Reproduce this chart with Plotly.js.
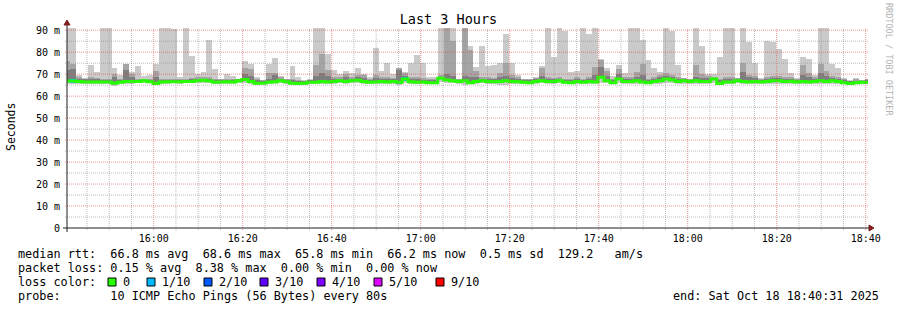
<!DOCTYPE html>
<html>
<head>
<meta charset="utf-8">
<script src="https://cdn.plot.ly/plotly-3.0.1.min.js"></script>
<style>
html,body{margin:0;padding:0;background:#fff;}
#chart{width:897px;height:310px;}
</style>
</head>
<body>
<div id="chart"></div>
<script>
// ---- data (one value per 80 s step, first step starts 15:39:51) ----
const stepStartISO = [2025, 9, 18, 15, 39, 51];
const stepSeconds = 80;

const hi = [91,91,69.6,68.2,74.3,71.1,91,91,73,69.7,74.6,71,73.8,69.3,69.6,74.8,91,91,90.5,68.7,
91,78.3,70,71,85.6,72.3,68,70,69.3,68,76,74.6,68.7,67.5,74.6,77.5,69.3,68,73.8,68.7,
67.2,68,91,91,79,72,70,71.3,70.6,73,70,68.7,81.8,71.6,75,70,73,71,75,78.5,
75,68.7,68.7,91,91,91,68,91,82.6,73.3,83,73.6,74,75,88.3,75,69.7,68,68,68.6,
73.6,91,77.7,91,89.8,71,71.6,91,88.3,91,77,73,69.3,74.3,70.4,91,91,85.6,76.5,73,
71,91,89.8,74.3,68.4,68,91,82.6,70,70,78,91,91,68.4,91,84.5,75,68.4,85,84.5,
81.5,76.7,70.4,68.4,78,77,69.7,91,91,74.6,73,68.4,67.2,68.4,67.5,68];

const p9 = [76,74.6,68.5,68,68.5,68.2,68,67.8,70,68,74.6,70,68,68,68,71.4,68,67.8,68,68,
68,68.2,68.5,68.5,68.5,68,67.8,68,67.8,67.8,73,72.3,67.8,67.3,70.6,70.6,68.5,67.8,68,67.5,
67,67.5,74.3,79.2,72,68.6,68.5,70,68.5,69.7,69.7,68,69.7,68.6,68.5,68.2,73,70.6,68.6,68.5,
68.2,67.8,67.8,69.5,91,85,67.8,91,81,71.6,68.5,68.5,68.2,70.6,75,69.7,68.5,67.6,67.6,68.2,
73,68.6,68.2,68.5,67.8,67.8,68.6,68,68.6,73.3,76.5,71.6,68,72.3,68.5,68.6,71,74.6,68,68.6,
69.5,70.5,69.8,68.6,68.2,67.8,74,70,69,68.5,68,68.5,68.6,68.2,75,69.7,69.3,68,68.6,69,
69,68.6,68.6,67.8,74,70.4,68.6,74.6,71.4,69.3,68.7,67.6,67,67.6,67.2,67.6];

const p8 = [72,72.3,68,67.8,68,67.6,67.5,67.3,68.5,67.5,72,68.5,67.5,67.5,67.5,68.5,67.5,67.3,67.4,67.4,
67.4,67.6,67.6,68,68,67.5,67.4,67.5,67.2,67.6,70,69,67.2,66.9,68,69.5,68,67.3,67.3,67,
66.8,67.2,69,70.5,69,67.8,68,68.5,67.8,68.5,68.4,67.5,68.2,67.8,67.8,67.6,72,69,67.8,67.6,
67.5,67.3,67.3,68.8,70,69,67.5,69,68.5,68.5,67.8,67.8,67.6,68.5,69,68.3,68,67.2,67.2,67.8,
69,67.8,67.6,67.8,67.3,67.3,67.8,67.5,67.8,69.5,73.3,69,67.5,70,67.8,68,68.8,69.5,67.4,67.8,
68.5,69,68.5,67.8,67.8,67.4,68.5,68.3,68.4,68.2,67.2,67.6,67.8,67.8,71,68.5,68.2,67.5,67.8,68.2,
68.2,67.8,67.8,67.4,69.5,68.5,67.8,70.5,69,68.2,67.9,67.2,66.8,67,66.9,67.2];

const median = [66.9,66.9,66.7,66.4,66.4,66.4,66.4,66.4,65.9,66.3,66.7,66.7,66.7,67.0,66.5,65.8,66.4,66.5,66.6,66.5,
66.7,66.7,67.0,67.2,66.9,66.3,66.4,66.6,66.4,67.0,67.6,66.7,65.9,65.9,66.3,66.6,67.0,66.6,65.9,65.8,
65.9,66.3,66.3,66.7,66.4,66.7,67.0,66.7,67.0,67.2,66.7,66.3,66.4,66.7,66.4,66.7,66.3,67.8,66.6,66.3,
66.4,66.1,66.1,68.1,67.3,67.0,66.7,67.0,66.1,66.7,67.0,66.7,66.6,66.7,67.0,66.7,66.6,66.3,66.1,66.7,
67.0,66.7,66.7,67.0,66.3,66.1,66.7,66.3,66.7,66.4,68.6,67.0,66.1,67.8,66.7,66.7,67.0,66.4,66.1,66.7,
67.0,67.8,67.3,66.7,67.0,66.7,67.0,66.7,66.7,67.8,65.8,66.4,66.4,67.0,66.7,66.4,66.7,66.4,66.7,67.0,
67.0,66.7,66.8,66.4,66.7,66.4,66.7,67.0,66.7,67.0,66.7,66.1,65.8,66.1,66.3,66.2];

const lo = [65.5,65.6,65.6,65.3,65.3,65.6,65.6,65.6,64.6,65.3,65.6,65.6,65.8,65.9,65.8,65.0,65.6,65.6,65.8,65.6,
65.8,65.8,65.9,66.0,65.8,65.5,65.5,65.6,65.6,65.8,66.0,65.7,65.2,65.3,65.5,65.7,66.0,65.7,65.2,65.2,
65.2,65.5,65.5,65.6,65.5,65.7,65.9,65.7,65.9,66.0,65.7,65.5,65.6,65.7,65.5,65.7,65.0,66.0,65.6,65.5,
65.6,65.3,65.3,66.3,66.0,65.8,65.7,65.0,65.3,65.7,65.8,65.7,65.6,65.0,65.2,65.6,65.6,65.5,65.4,65.6,
65.8,65.6,65.6,65.8,65.5,65.4,65.6,65.4,65.6,65.5,66.2,65.8,65.4,66.0,65.6,65.6,65.7,65.5,65.4,65.5,
65.7,66.0,65.8,65.5,65.7,65.6,65.7,65.6,65.6,66.0,65.2,65.4,65.4,65.8,65.6,65.4,65.6,65.5,65.6,65.7,
65.7,65.6,65.6,65.5,65.5,65.5,65.6,65.6,65.5,65.7,65.5,65.3,65.2,65.3,65.4,65.5];

// lost pings per step (out of 10)
const loss = [0,1,1,0,0,0,0,0,0,0,0,0,0,0,0,0,0,0,0,0,
0,0,0,0,0,0,0,0,0,0,0,0,0,0,0,0,0,0,0,0,
0,0,0,0,0,0,0,0,0,0,0,0,0,0,0,0,1,1,0,0,
0,0,0,0,0,0,0,0,0,0,0,0,0,0,0,0,0,0,0,0,
0,0,0,0,0,0,0,0,0,0,0,0,0,0,0,0,0,0,0,0,
0,0,0,0,0,0,0,0,0,0,0,0,0,0,0,0,0,0,0,0,
0,0,0,0,0,0,0,0,0,0,0,0,0,0,0,0];

const lossLevels = [0, 1, 2, 3, 4, 5, 9];
const lossLabels = ['0', '1/10', '2/10', '3/10', '4/10', '5/10', '9/10'];
const lossColors = ['#26ff00', '#00b8ff', '#0059ff', '#5e00ff', '#7e00ff', '#dd00ff', '#ff0000'];

const yTickVals = [0, 10, 20, 30, 40, 50, 60, 70, 80, 90];
const yTickText = ['0', '10 m', '20 m', '30 m', '40 m', '50 m', '60 m', '70 m', '80 m', '90 m'];
const xTickText = ['16:00', '16:20', '16:40', '17:00', '17:20', '17:40', '18:00', '18:20', '18:40'];

const statsLines = [
  'median rtt:  66.8 ms avg  68.6 ms max  65.8 ms min  66.2 ms now  0.5 ms sd  129.2   am/s',
  'packet loss: 0.15 % avg  8.38 % max  0.00 % min  0.00 % now',
  'loss color:',
  'probe:       10 ICMP Echo Pings (56 Bytes) every 80s'
];
const endText = 'end: Sat Oct 18 18:40:31 2025';

// ---- geometry ----
const W = 897, H = 310;
const PL = 67, PR = 868, PT = 28, PB = 228;
const PW = PR - PL, PH = PB - PT;
const px2x = p => (p - PL) / PW;
const px2y = p => (PB - p) / PH;
const MONO = 'DejaVu Sans Mono';
const nb = s => s.replace(/ /g, '\u00a0');

const t0 = Date.UTC(...stepStartISO);
const stepMs = stepSeconds * 1000;
const centers = hi.map((_, i) => t0 + i * stepMs + stepMs / 2);
const xRange = [Date.UTC(2025, 9, 18, 15, 40, 31), Date.UTC(2025, 9, 18, 18, 40, 31)];
const xTickVals = xTickText.map(s => { const [h, m] = s.split(':').map(Number); return Date.UTC(2025, 9, 18, h, m); });

const traces = [];
function band(lower, upper, color) {
  traces.push({
    type: 'bar', x: centers, base: lower, y: upper.map((u, i) => u - lower[i]),
    width: stepMs, marker: {color: color, line: {width: 0}}, hoverinfo: 'skip', showlegend: false
  });
}
band(lo, hi, '#cacaca');
band(median, p9, '#a4a4a4');
band(median, p8, '#7e7e7e');

traces.push({
  type: 'scatter', mode: 'lines', x: centers, y: median,
  line: {color: lossColors[0], width: 3, shape: 'hvh'}, hoverinfo: 'skip', showlegend: false
});
// loss-coloured median segments
traces.push({
  type: 'bar', x: centers,
  base: median.map(v => v - 0.7),
  y: loss.map(l => l > 0 ? 1.4 : null),
  width: stepMs,
  marker: {color: loss.map(l => lossColors[Math.max(0, lossLevels.indexOf(l))]), line: {width: 0}},
  hoverinfo: 'skip', showlegend: false
});

// ---- grid (rrdtool draws it over the graph) ----
const shapes = [];
const majorCol = 'rgba(222,79,79,0.6)';
const minorCol = 'rgba(143,143,143,0.6)';
const dash = '1px,1px';
const yMinor = [];
for (let v = 5; v < 91; v += 10) yMinor.push(v);
yMinor.forEach(v => shapes.push({type: 'line', layer: 'above', xref: 'paper', yref: 'y', x0: px2x(PL - 2), x1: px2x(PR + 1), y0: v, y1: v, line: {color: minorCol, width: 1, dash}}));
yTickVals.filter(v => v > 0).forEach(v => shapes.push({type: 'line', layer: 'above', xref: 'paper', yref: 'y', x0: px2x(PL - 2), x1: px2x(PR + 1), y0: v, y1: v, line: {color: majorCol, width: 1, dash}}));
const xMinor = [];
for (let t = Date.UTC(2025, 9, 18, 15, 45); t < xRange[1]; t += 300000) if (!xTickVals.includes(t)) xMinor.push(t);
xMinor.forEach(t => shapes.push({type: 'line', layer: 'above', xref: 'x', yref: 'paper', x0: t, x1: t, y0: px2y(PB + 2), y1: 1, line: {color: minorCol, width: 1, dash}}));
xTickVals.forEach(t => shapes.push({type: 'line', layer: 'above', xref: 'x', yref: 'paper', x0: t, x1: t, y0: px2y(PB + 2), y1: 1, line: {color: majorCol, width: 1, dash}}));

// axes + arrows
const axisCol = '#1f1f1f', arrowCol = '#801f1f';
shapes.push({type: 'line', layer: 'above', xref: 'paper', yref: 'paper', x0: px2x(PL - 4), x1: px2x(PR + 2), y0: 0, y1: 0, line: {color: axisCol, width: 1}});
shapes.push({type: 'line', layer: 'above', xref: 'paper', yref: 'paper', x0: 0, x1: 0, y0: px2y(PB + 4), y1: px2y(PT - 4), line: {color: axisCol, width: 1}});
shapes.push({type: 'path', layer: 'above', xref: 'paper', yref: 'paper',
  path: `M${px2x(PL - 3)},${px2y(PT - 3)} L${px2x(PL + 3)},${px2y(PT - 3)} L${px2x(PL)},${px2y(PT - 8)} Z`,
  fillcolor: arrowCol, line: {color: arrowCol, width: 1}});
shapes.push({type: 'path', layer: 'above', xref: 'paper', yref: 'paper',
  path: `M${px2x(PR + 1)},${px2y(PB - 3)} L${px2x(PR + 1)},${px2y(PB + 3)} L${px2x(PR + 6)},${px2y(PB)} Z`,
  fillcolor: arrowCol, line: {color: arrowCol, width: 1}});

// ---- text ----
const annotations = [];
const legFont = {family: MONO, size: 11.8, color: '#000'};
const lineY = [254, 268, 282, 296];
statsLines.forEach((s, i) => annotations.push({xref: 'paper', yref: 'paper', x: px2x(16), y: px2y(lineY[i]), xanchor: 'left', yanchor: 'middle', text: nb(s), showarrow: false, font: legFont}));
annotations.push({xref: 'paper', yref: 'paper', x: px2x(881), y: px2y(lineY[3]), xanchor: 'right', yanchor: 'middle', text: nb(endText), showarrow: false, font: legFont});

const boxX = [108, 147, 204, 260, 317, 374, 436];
lossLabels.forEach((lab, i) => {
  shapes.push({type: 'rect', xref: 'paper', yref: 'paper', x0: px2x(boxX[i]), x1: px2x(boxX[i] + 8), y0: px2y(lineY[2] + 4), y1: px2y(lineY[2] - 4), fillcolor: lossColors[i], line: {color: '#000', width: 1}});
  annotations.push({xref: 'paper', yref: 'paper', x: px2x(boxX[i] + 13), y: px2y(lineY[2]), xanchor: 'left', yanchor: 'middle', text: lab, showarrow: false, font: legFont});
});

annotations.push({xref: 'paper', yref: 'paper', x: px2x(11), y: px2y(127), xanchor: 'center', yanchor: 'middle', text: 'Seconds', textangle: -90, showarrow: false, font: {family: MONO, size: 11.5, color: '#000'}});
annotations.push({xref: 'paper', yref: 'paper', x: px2x(889), y: px2y(59), xanchor: 'center', yanchor: 'middle', text: nb('RRDTOOL / TOBI OETIKER'), textangle: 90, showarrow: false, font: {family: MONO, size: 8.5, color: '#b4b4b4'}});

const layout = {
  width: W, height: H,
  margin: {l: PL, r: W - PR, t: PT, b: H - PB, pad: 0},
  paper_bgcolor: '#ffffff', plot_bgcolor: '#ffffff',
  showlegend: false, barmode: 'overlay', bargap: 0,
  title: {text: 'Last 3 Hours', font: {family: MONO, size: 13.5, color: '#000'}, xref: 'container', x: 0.5, xanchor: 'center', yref: 'container', y: 1 - 19 / H, yanchor: 'middle'},
  xaxis: {type: 'date', range: xRange, tickmode: 'array', tickvals: xTickVals, ticktext: xTickText,
    showgrid: false, zeroline: false, showline: false, ticks: '', ticklabelstandoff: 3,
    tickfont: {family: MONO, size: 10, color: '#000'}, fixedrange: true},
  yaxis: {range: [0, 91], tickmode: 'array', tickvals: yTickVals, ticktext: yTickText,
    showgrid: false, zeroline: false, showline: false, ticks: '', ticklabelstandoff: 6,
    tickfont: {family: MONO, size: 10, color: '#000'}, fixedrange: true},
  shapes, annotations
};

Plotly.newPlot('chart', traces, layout, {staticPlot: true, displayModeBar: false});
</script>
</body>
</html>
